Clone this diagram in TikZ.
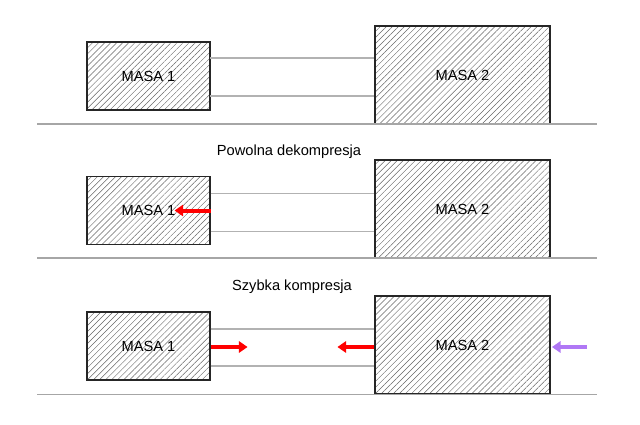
\documentclass[tikz,border=0pt]{standalone}
\usepackage{fontspec}
\setmainfont{Liberation Sans}
\usetikzlibrary{patterns.meta,arrows.meta}
\definecolor{lavender}{RGB}{176,120,245}

\begin{document}
\begin{tikzpicture}[x=0.75pt, y=-0.75pt, font=\fontsize{11}{13}\selectfont,
    mass/.style={draw=black!85, line width=0.85pt, inner sep=0pt,
        pattern={Lines[angle=45, distance=3.2pt, line width=0.35pt]},
        pattern color=black!60},
    small mass/.style={mass, minimum width=92.25pt, minimum height=51pt},
    big mass/.style={mass, minimum width=131.25pt, minimum height=73.5pt},
    rod/.style={draw=black!30, line width=0.8pt},
    ground/.style={draw=black!35, line width=0.8pt},
    push/.style={line width=3pt, -{Triangle[length=6.5pt, width=8.5pt]}}]
        \useasboundingbox (0,0) rectangle (640,425);

        % stan spoczynku
        \node[small mass] (m1a) at (148.5,76) {MASA 1};
        \node[big mass] (m2a) at (462.5,75) {MASA 2};
        \draw[rod] ([yshift=13.5pt]m1a.east) -- ([yshift=13.5pt]m1a.east -| m2a.west);
        \draw[rod] ([yshift=-15pt]m1a.east) -- ([yshift=-15pt]m1a.east -| m2a.west);
        \draw[ground] (37,124) -- (597,124);

        % powolna dekompresja
        \node (tb) at (289,152) {Powolna dekompresja};
        \node[small mass] (m1b) at (148.5,210.5) {MASA 1};
        \node[big mass] (m2b) at (462.5,209) {MASA 2};
        \draw[rod] ([yshift=13.1pt]m1b.east) -- ([yshift=13.1pt]m1b.east -| m2b.west);
        \draw[rod] ([yshift=-15.4pt]m1b.east) -- ([yshift=-15.4pt]m1b.east -| m2b.west);
        \draw[ground] (37,258) -- (597,258);
        \draw[push, red] (m1b.east) -- ++(-36,0);

        % szybka kompresja
        \node (tc) at (292,287) {Szybka kompresja};
        \node[small mass] (m1c) at (148.5,346) {MASA 1};
        \node[big mass] (m2c) at (462.5,345) {MASA 2};
        \draw[rod] ([yshift=12.75pt]m1c.east) -- ([yshift=12.75pt]m1c.east -| m2c.west);
        \draw[rod] ([yshift=-15pt]m1c.east) -- ([yshift=-15pt]m1c.east -| m2c.west);
        \draw[ground] (37,394.5) -- (597,394.5);
        \draw[push, red] ([yshift=-0.75pt]m1c.east) -- ++(37,0);
        \draw[push, red] ([yshift=-1.5pt]m2c.west) -- ++(-37,0);
        \coordinate (kick) at (587,347);
        \draw[push, lavender] (kick) -- ([yshift=-1.5pt,xshift=1pt]m2c.east);
    \end{tikzpicture}
\end{document}
